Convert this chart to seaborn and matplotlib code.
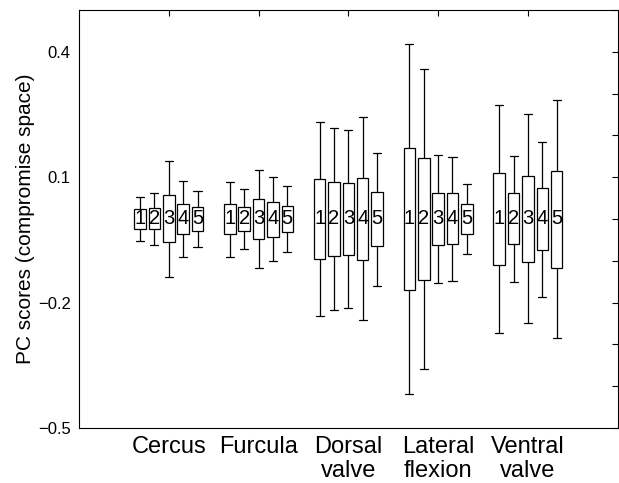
import numpy as np
import pandas as pd
import seaborn as sns
import matplotlib
matplotlib.use("Agg")
import matplotlib.pyplot as plt
from matplotlib.ticker import MultipleLocator, FixedLocator

# categories and components
parts = ["Cercus", "Furcula", "Dorsal\nvalve", "Lateral\nflexion", "Ventral\nvalve"]
pcs = ["1", "2", "3", "4", "5"]

# per part: values for PC1..PC5
whisk_hi = {
    "Cercus":           [0.053, 0.062, 0.139, 0.091, 0.067],
    "Furcula":          [0.089, 0.071, 0.118, 0.101, 0.079],
    "Dorsal\nvalve":    [0.232, 0.217, 0.212, 0.243, 0.159],
    "Lateral\nflexion": [0.418, 0.358, 0.153, 0.149, 0.083],
    "Ventral\nvalve":   [0.272, 0.150, 0.250, 0.185, 0.285],
}
q3 = {
    "Cercus":           [0.023, 0.026, 0.057, 0.037, 0.028],
    "Furcula":          [0.037, 0.029, 0.047, 0.041, 0.032],
    "Dorsal\nvalve":    [0.095, 0.089, 0.086, 0.099, 0.065],
    "Lateral\nflexion": [0.171, 0.146, 0.062, 0.061, 0.035],
    "Ventral\nvalve":   [0.111, 0.061, 0.102, 0.075, 0.116],
}
q1 = {
    "Cercus":           [-0.023, -0.025, -0.056, -0.037, -0.028],
    "Furcula":          [-0.036, -0.029, -0.049, -0.042, -0.032],
    "Dorsal\nvalve":    [-0.095, -0.089, -0.086, -0.099, -0.065],
    "Lateral\nflexion": [-0.171, -0.147, -0.062, -0.060, -0.035],
    "Ventral\nvalve":   [-0.111, -0.061, -0.103, -0.075, -0.117],
}
whisk_lo = {
    "Cercus":           [-0.052, -0.062, -0.139, -0.091, -0.068],
    "Furcula":          [-0.090, -0.071, -0.118, -0.101, -0.079],
    "Dorsal\nvalve":    [-0.233, -0.218, -0.212, -0.242, -0.160],
    "Lateral\nflexion": [-0.419, -0.358, -0.153, -0.149, -0.083],
    "Ventral\nvalve":   [-0.273, -0.151, -0.250, -0.186, -0.285],
}
medians = [0.0, 0.0, 0.0, 0.0, 0.0]

# five points per box -> quartiles and whiskers come out exactly
rows = []
for p in parts:
    for j, pc in enumerate(pcs):
        for v in (whisk_lo[p][j], q1[p][j], medians[j], q3[p][j], whisk_hi[p][j]):
            rows.append({"part": p, "pc": pc, "score": v})
df = pd.DataFrame(rows)

sns.set_style("white")
plt.rcParams["font.family"] = ["Liberation Sans", "DejaVu Sans"]
plt.rcParams.update({"text.color": "black", "axes.labelcolor": "black",
                     "xtick.color": "black", "ytick.color": "black"})

fig = plt.figure(figsize=(6.19, 4.83), dpi=100)
ax = fig.add_axes([0.1276, 0.1139, 0.8703, 0.8654])

sns.boxplot(data=df, x="part", y="score", hue="pc", order=parts, hue_order=pcs,
            whis=(0, 100), width=0.8, gap=0.2, palette=["white"] * 5,
            linecolor="black", linewidth=0.9, legend=False, ax=ax,
            medianprops={"visible": False}, capwidths=0.09)

# component numbers sit where the median line would be
for i, p in enumerate(parts):
    for j, pc in enumerate(pcs):
        ax.text(i + (j - 2) * 0.16, medians[j], pc, ha="center", va="center",
                fontsize=14.5, color="black")

ax.set_xlim(-1, 5)
ax.set_ylim(-0.5, 0.5)
ax.yaxis.set_major_locator(FixedLocator([-0.5, -0.2, 0.1, 0.4]))
ax.yaxis.set_minor_locator(MultipleLocator(0.1))
ax.set_yticklabels(["\u22120.5", "\u22120.2", "0.1", "0.4"])
ax.tick_params(axis="both", which="both", direction="in", top=True, right=True,
               length=4, width=0.8, color="black")
ax.tick_params(axis="y", labelsize=12, pad=6)
ax.tick_params(axis="x", labelsize=17, pad=6)
for lab in ax.get_xticklabels():
    lab.set_linespacing(1.1)
ax.set_xlabel("")
ax.set_ylabel("PC scores (compromise space)", fontsize=15, labelpad=2)
for s in ax.spines.values():
    s.set_color("black")
    s.set_linewidth(0.8)

fig.savefig("out.png", dpi=100)
